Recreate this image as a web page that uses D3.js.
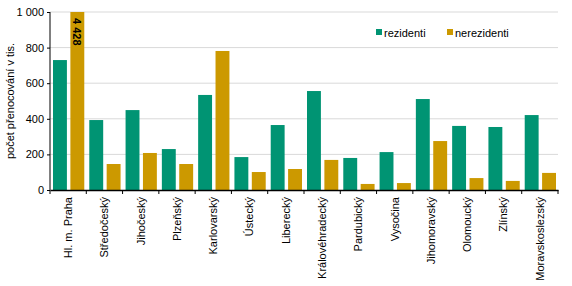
<!DOCTYPE html>
<html><head><meta charset="utf-8">
<script src="https://cdn.jsdelivr.net/npm/d3@7"></script>
<style>body{margin:0;background:#fff;}svg{font-family:"Liberation Sans",Arial,sans-serif;}</style>
</head><body><div id="c"></div>
<script>
const categories = ["Hl. m. Praha","Středočeský","Jihočeský","Plzeňský","Karlovarský","Ústecký","Liberecký","Královéhradecký","Pardubický","Vysočina","Jihomoravský","Olomoucký","Zlínský","Moravskoslezský"];
const rezidenti = [730,393,449,230,534,185,365,556,180,213,511,360,354,421];
const nerezidenti = [4428,146,208,146,781,101,118,169,34,39,275,67,51,96];
const seriesNames = ["rezidenti","nerezidenti"];
const colors = ["#009473","#CC9900"];
const yTicks = [0,200,400,600,800,1000];
const yLabel = "počet přenocování v tis.";

const W=572,H=286;
const m={l:50,r:14,t:12,b:96};
const svg=d3.select("#c").append("svg").attr("width",W).attr("height",H);
const x=d3.scaleBand().domain(categories).range([m.l,W-m.r]);
const x1=d3.scaleBand().domain(seriesNames).range([3,x.bandwidth()-2]).paddingInner(0.2);
const y=d3.scaleLinear().domain([0,1000]).range([H-m.b,m.t]);
const fmt=v=>d3.format(",")(v).replace(/,/g," ");

// grid
svg.append("g").selectAll("line").data(yTicks.filter(d=>d>0)).join("line")
 .attr("x1",m.l).attr("x2",W-m.r).attr("y1",d=>y(d)).attr("y2",d=>y(d))
 .attr("stroke","#d9d9d9").attr("stroke-width",1);

const data=categories.map((c,i)=>({c,vals:[rezidenti[i],nerezidenti[i]]}));
const g=svg.append("g").selectAll("g").data(data).join("g").attr("transform",d=>`translate(${x(d.c)},0)`);
g.selectAll("rect").data(d=>d.vals.map((v,j)=>({v,s:seriesNames[j],j}))).join("rect")
 .attr("x",d=>x1(d.s)).attr("width",x1.bandwidth())
 .attr("y",d=>y(Math.min(d.v,1000))).attr("height",d=>y(0)-y(Math.min(d.v,1000)))
 .attr("fill",d=>colors[d.j]);

// overflow label
data.forEach(d=>{ d.vals.forEach((v,j)=>{ if(v>1000){
  const cx=x(d.c)+x1(seriesNames[j])+x1.bandwidth()/2;
  svg.append("text").attr("transform",`translate(${cx},${y(1000)+6}) rotate(90)`)
   .attr("dy","0.35em").attr("font-size",11).attr("font-weight","bold").attr("fill","#000")
   .text(fmt(v));
}});});

// y axis
const ya=svg.append("g").attr("transform",`translate(${m.l},0)`)
 .call(d3.axisLeft(y).tickValues(yTicks).tickSize(3).tickFormat(fmt));
ya.select(".domain").attr("stroke","#000").attr("d",`M0,${y(1000)}V${y(0)}`);
ya.selectAll("text").attr("font-size",11).attr("fill","#000").attr("font-family","Liberation Sans, Arial");

// x axis
const xa=svg.append("g").attr("transform",`translate(0,${y(0)})`)
 .call(d3.axisBottom(x).tickSize(0).tickFormat(""));
xa.select(".domain").attr("stroke","#000").attr("stroke-width",1.5);
const bounds=[...categories.map(c=>x(c)),W-m.r];
xa.selectAll(".tk").data(bounds).join("line").attr("class","tk")
 .attr("x1",d=>d).attr("x2",d=>d).attr("y1",0).attr("y2",4).attr("stroke","#000");
svg.append("g").selectAll("text").data(categories).join("text")
 .attr("transform",c=>`translate(${x(c)+x.bandwidth()/2},${y(0)+7}) rotate(-90)`)
 .attr("text-anchor","end").attr("dy","0.35em").attr("font-size",11).attr("fill","#000")
 .text(c=>c);

// y label
svg.append("text").attr("transform",`translate(10,${(y(0)+y(1000))/2}) rotate(-90)`)
 .attr("text-anchor","middle").attr("dy","0.35em").attr("font-size",11).attr("fill","#000").text(yLabel);

// legend
const leg=[{x:376},{x:447}];
seriesNames.forEach((s,i)=>{
  svg.append("rect").attr("x",leg[i].x).attr("y",29).attr("width",6).attr("height",6).attr("fill",colors[i]);
  svg.append("text").attr("x",leg[i].x+8).attr("y",33).attr("dy","0.35em").attr("font-size",11).attr("fill","#000").text(s);
});
</script></body></html>
